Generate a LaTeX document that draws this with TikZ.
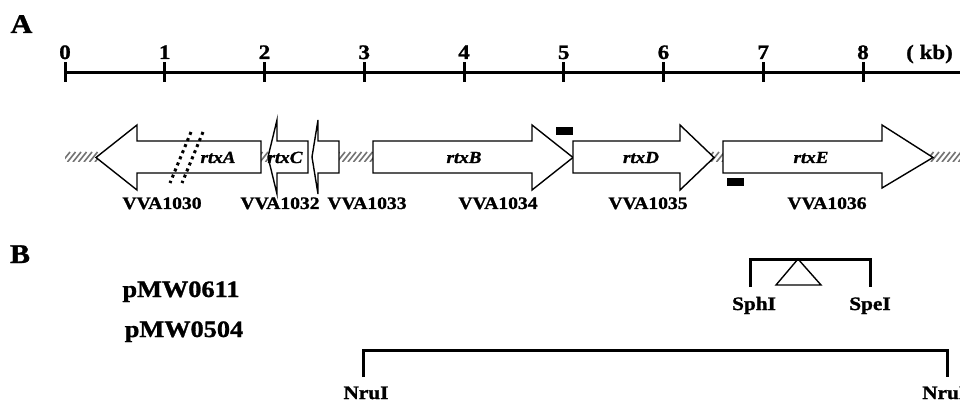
\documentclass[tikz,border=0pt]{standalone}
\usepackage{fontspec}
\setmainfont{Liberation Serif}[FakeStretch=1.12,FakeBold=1.2]
\begin{document}
\begin{tikzpicture}[x=1pt,y=-1pt,
  gene/.style={draw=black, line width=1.4pt, fill=white, line join=miter},
  hatchline/.style={draw=black!55, line width=1.6pt},
  dotline/.style={draw=black, line width=3pt, dash pattern=on 3pt off 3.6pt},
  thickline/.style={draw=black, line width=3pt},
  bar/.style={fill=black, draw=none},
  txt/.style={anchor=base, inner sep=0pt},
  panel/.style={txt, font=\fontsize{27}{27}\selectfont\bfseries},
  num/.style={txt, font=\fontsize{20.5}{20.5}\selectfont\bfseries},
  locus/.style={txt, font=\fontsize{17.5}{17.5}\selectfont\bfseries},
  gname/.style={txt, font=\fontsize{17}{17}\selectfont\bfseries\itshape},
  plasmid/.style={txt, font=\fontsize{23.5}{23.5}\selectfont\bfseries},
  site/.style={txt, font=\fontsize{19}{19}\selectfont\bfseries}]
\useasboundingbox (0,0) rectangle (960,403);
\clip (0,0) rectangle (960,403);
\fill[white] (0,0) rectangle (960,403);

% panel letters
\node[panel] (pA) at (21.5,33) {A};
\node[panel] (pB) at (20,263) {B};

% scale
\coordinate (s0) at (65,73);
\coordinate (send) at (962,73);
\draw[thickline] (s0) -- (send);
\foreach \k in {0,...,8}{
  \coordinate (t\k) at ({65+99.75*\k},73);
  \draw[thickline] ([yshift=-9pt]t\k) -- ([yshift=11pt]t\k);
  \node[num] (n\k) at ({65+99.75*\k},59) {\k};
}
\node[num] (kb) at (929.5,59) {( kb)};

% hatched intergenic bands
\newcommand\hatchband[2]{%
  \begin{scope}
    \clip (#1,152) rectangle (#2,162);
    \foreach \xx in {40,45.5,...,975}{\draw[hatchline] (\xx,162) -- ++(8,-10);}
  \end{scope}}
\hatchband{65}{100}
\hatchband{258}{271}
\hatchband{336}{376}
\hatchband{710}{726}
\hatchband{930}{960}

% genes
\draw[gene] (261,141) -- (137,141) -- (137,125) -- (96,157.5) -- (137,190) -- (137,173) -- (261,173) -- cycle;
\draw[gene] (308,141) -- (277,141) -- (277,120) -- (268,157) -- (277,194) -- (277,173) -- (308,173) -- cycle;
\draw[gene] (339,141) -- (318,141) -- (318,120) -- (312,157) -- (318,194) -- (318,173) -- (339,173) -- cycle;
\draw[gene] (373,141) -- (532,141) -- (532,125) -- (573,157.5) -- (532,190) -- (532,173) -- (373,173) -- cycle;
\draw[gene] (573,141) -- (680,141) -- (680,125) -- (714,157.5) -- (680,190) -- (680,173) -- (573,173) -- cycle;
\draw[gene] (723,141) -- (882,141) -- (882,125) -- (933,157.5) -- (882,188) -- (882,173) -- (723,173) -- cycle;

% dotted insertion marks
\coordinate (d1a) at (191,132); \coordinate (d1b) at (170,183);
\coordinate (d2a) at (203,132); \coordinate (d2b) at (182,183);
\draw[dotline] (d1a) -- (d1b);
\draw[dotline] (d2a) -- (d2b);

% probe bars
\fill[bar] (556,127) rectangle (573,135);
\fill[bar] (727,178) rectangle (744,186);

% gene names
\node[gname] (rtxA) at (218,163) {rtxA};
\node[gname] (rtxC) at (285,163) {rtxC};
\node[gname] (rtxB) at (464,163) {rtxB};
\node[gname] (rtxD) at (641,163) {rtxD};
\node[gname] (rtxE) at (811,163) {rtxE};

% locus tags
\node[locus] (v1030) at (162,209) {VVA1030};
\node[locus] (v1032) at (280,209) {VVA1032};
\node[locus] (v1033) at (367,209) {VVA1033};
\node[locus] (v1034) at (498,209) {VVA1034};
\node[locus] (v1035) at (648,209) {VVA1035};
\node[locus] (v1036) at (827,209) {VVA1036};

% panel B
\node[plasmid] (p0611) at (181,297) {pMW0611};
\node[plasmid] (p0504) at (184,337) {pMW0504};

\coordinate (a1) at (750,287); \coordinate (a2) at (750,259);
\coordinate (a3) at (870,259); \coordinate (a4) at (870,287);
\draw[thickline, line join=miter] (a1) -- (a2) -- (a3) -- (a4);
\coordinate (tri1) at (798,259); \coordinate (tri2) at (776,285); \coordinate (tri3) at (821,285);
\draw[line width=1.4pt, line join=miter] (tri1) -- (tri2) -- (tri3) -- cycle;
\node[site] (sph) at (754,310) {SphI};
\node[site] (spe) at (870,310) {SpeI};

\coordinate (b1) at (363,377); \coordinate (b2) at (363,350);
\coordinate (b3) at (947,350); \coordinate (b4) at (947,377);
\draw[thickline, line join=miter] (b1) -- (b2) -- (b3) -- (b4);
\node[site] (nru1) at (366,399) {NruI};
\node[site, anchor=base west] (nru2) at (922,399) {NruI};
\end{tikzpicture}
\end{document}
